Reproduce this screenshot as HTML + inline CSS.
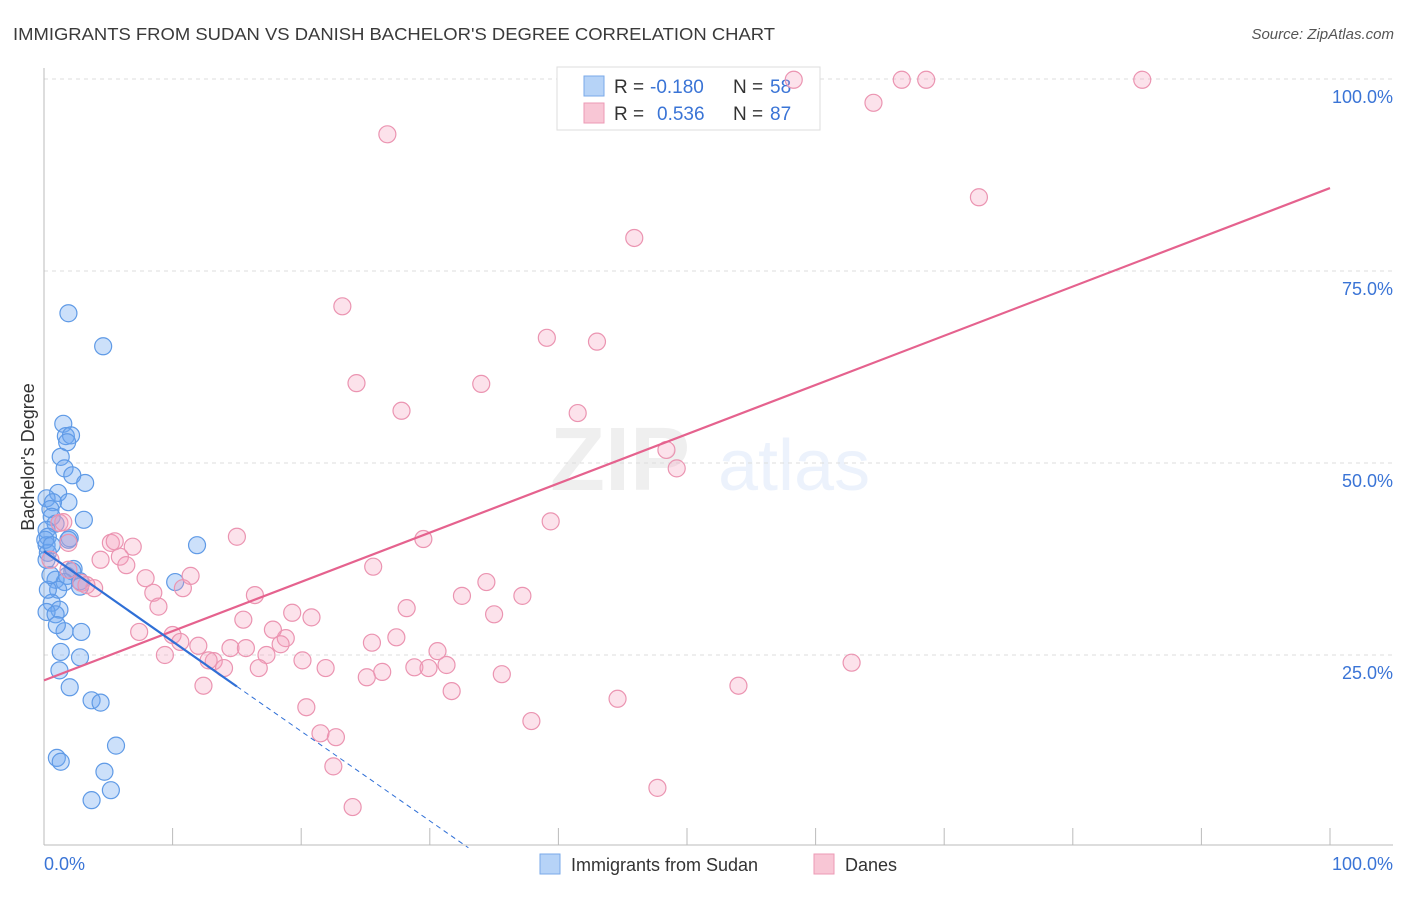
<!DOCTYPE html>
<html><head><meta charset="utf-8"><style>
body{margin:0;background:#fff;font-family:"Liberation Sans",sans-serif}
svg text{font-family:"Liberation Sans",sans-serif}
</style></head><body>
<svg id="chart" width="1406" height="892" xmlns="http://www.w3.org/2000/svg">
<text x="13" y="40" font-size="17.5" fill="#3a3a3a" textLength="762" lengthAdjust="spacingAndGlyphs">IMMIGRANTS FROM SUDAN VS DANISH BACHELOR'S DEGREE CORRELATION CHART</text>
<text x="1394" y="39" font-size="15" font-style="italic" fill="#555" text-anchor="end">Source: ZipAtlas.com</text>
<text transform="translate(34,457) rotate(-90)" font-size="18" fill="#333" text-anchor="middle">Bachelor's Degree</text>
<g opacity="0.09">
<text x="690" y="490" font-size="90" font-family="Liberation Serif" fill="#555" text-anchor="end" font-weight="bold">ZIP</text>
<text x="718" y="490" font-size="72" fill="#3b7de0">atlas</text>
</g>
<g id="grid"></g><g id="axes"></g>
<g>
<rect x="557" y="67" width="263" height="63" fill="#fff" stroke="#ddd"/>
<rect x="584" y="76" width="20" height="20" fill="#b6d3f7" stroke="#7aaae8"/>
<rect x="584" y="103" width="20" height="20" fill="#f8c6d5" stroke="#ec9ab5"/>
<text x="614" y="93" font-size="19" fill="#333">R =</text>
<text x="650" y="93" font-size="19" fill="#3a74d6">-0.180</text>
<text x="733" y="93" font-size="19" fill="#333">N =</text>
<text x="770" y="93" font-size="19" fill="#3a74d6">58</text>
<text x="614" y="120" font-size="19" fill="#333">R =</text>
<text x="657" y="120" font-size="19" fill="#3a74d6">0.536</text>
<text x="733" y="120" font-size="19" fill="#333">N =</text>
<text x="770" y="120" font-size="19" fill="#3a74d6">87</text>
</g>
<g id="pts"></g><g id="lines"></g>
<g>
<rect x="540" y="854" width="20" height="20" fill="#b6d3f7" stroke="#7aaae8"/>
<text x="571" y="871" font-size="18" fill="#333">Immigrants from Sudan</text>
<rect x="814" y="854" width="20" height="20" fill="#f8c6d5" stroke="#ec9ab5"/>
<text x="845" y="871" font-size="18" fill="#333">Danes</text>
</g>
</svg>
<script>
const yTicks=[25,50,75,100];
const yTickLabels=["25.0%","50.0%","75.0%","100.0%"];
const xTickLabels=["0.0%","100.0%"];
const blueX=[1.9,4.6,1.5,1.7,2.1,1.8,1.3,1.6,2.2,3.2,1.1,0.2,1.9,0.7,0.5,3.1,0.6,0.9,0.2,0.3,2.0,1.9,0.2,11.9,0.3,2.3,2.2,1.8,0.9,1.6,10.2,2.8,2.8,1.1,0.6,1.2,0.2,0.9,1.6,2.9,1.3,1.2,2.8,2.0,3.7,4.4,1.0,1.3,5.6,4.7,3.7,5.2,0.2,0.3,0.1,1.0,0.5,0.6];
const blueY=[69.5,65.2,55.1,53.5,53.6,52.7,50.8,49.3,48.4,47.4,46.1,45.4,44.9,44.9,44.0,42.6,43.0,42.1,41.3,40.4,40.2,40.0,39.3,39.3,38.3,36.2,35.9,35.3,34.8,34.5,34.5,34.6,33.9,33.5,31.8,30.9,30.6,30.3,28.1,28.0,25.4,23.0,24.7,20.8,19.1,18.8,11.6,11.1,13.2,9.8,6.1,7.4,37.4,33.5,40.0,28.9,35.4,39.3];
const pinkX=[23.2,26.7,58.3,66.7,68.6,85.4,64.5,72.7,45.9,39.1,43.0,24.3,34.0,27.8,41.5,48.4,49.2,39.4,29.5,15.0,1.2,1.5,1.9,5.2,5.5,6.9,4.4,5.9,6.4,7.9,11.4,10.8,8.5,8.9,2.9,3.9,34.4,32.5,37.2,25.6,16.4,28.2,19.3,20.8,35.0,15.5,7.4,10.0,10.6,12.0,18.8,17.8,14.5,15.7,27.4,25.5,30.6,17.3,18.4,9.4,13.2,12.8,14.0,20.1,21.9,28.8,29.9,31.3,26.3,25.1,35.6,16.7,12.4,31.7,54.0,62.8,44.6,20.4,21.5,22.7,37.9,22.5,47.7,24.0,0.5,1.9,3.3];
const pinkY=[70.4,92.8,99.9,99.9,99.9,99.9,96.9,84.6,79.3,66.3,65.8,60.4,60.3,56.8,56.5,51.7,49.3,42.4,40.1,40.4,42.2,42.3,39.6,39.6,39.8,39.1,37.4,37.8,36.7,35.0,35.3,33.7,33.1,31.3,34.4,33.7,34.5,32.7,32.7,36.5,32.8,31.1,30.5,29.9,30.3,29.6,28.0,27.6,26.7,26.2,27.2,28.3,25.9,25.9,27.3,26.6,25.5,25.0,26.4,25.0,24.2,24.3,23.3,24.3,23.3,23.4,23.3,23.7,22.8,22.1,22.5,23.3,21.0,20.3,21.0,24.0,19.3,18.2,14.8,14.3,16.4,10.5,7.7,5.2,37.4,36.1,34.1];
const blueTrend=[38.5,20.9,-0.1]; const blueTrendX=[0,15,33];
const pinkTrend=[21.7,85.8]; const pinkTrendX=[0,100];
const sx=v=>44+v*12.86, sy=v=>847-v*7.68;
const NS="http://www.w3.org/2000/svg";
function mk(t,a,p){const e=document.createElementNS(NS,t);for(const k in a)e.setAttribute(k,a[k]);p.appendChild(e);return e;}
const grid=document.getElementById('grid'),axes=document.getElementById('axes'),pts=document.getElementById('pts'),lines=document.getElementById('lines');
yTicks.forEach((v,i)=>{
 const l=mk('line',{x1:44,x2:1393,y1:sy(v),y2:sy(v),stroke:'#ddd','stroke-dasharray':'4,4'},grid);
 
 
 const t=mk('text',{x:1393,y:sy(v)+24,'font-size':18,fill:'#3a74d6','text-anchor':'end'},axes);
 t.textContent=yTickLabels[i];
 
 
});
const xa=mk('line',{x1:44,x2:1393,y1:845,y2:845,stroke:'#bbb'},axes);


const ya=mk('line',{x1:44,x2:44,y1:68,y2:845,stroke:'#bbb'},axes);


for(let i=0;i<=10;i++){const tk=mk('line',{x1:sx(i*10),x2:sx(i*10),y1:828,y2:845,stroke:'#bbb'},axes);
 
 }
[[0,'start',44],[1,'end',1393]].forEach(([i,a,x])=>{const t=mk('text',{x:x,y:870,'font-size':18,fill:'#3a74d6','text-anchor':a},axes);t.textContent=xTickLabels[i];
 
 });
blueX.forEach((v,i)=>{const c=mk('circle',{cx:sx(v),cy:sy(blueY[i]),r:8.5,fill:'rgba(110,165,240,0.35)',stroke:'#5f9ae6','stroke-width':1.2},pts);
 
 });
pinkX.forEach((v,i)=>{const c=mk('circle',{cx:sx(v),cy:sy(pinkY[i]),r:8.5,fill:'rgba(245,160,190,0.3)',stroke:'#eb94b1','stroke-width':1.2},pts);
 
 });
const pl=mk('line',{x1:sx(pinkTrendX[0]),y1:sy(pinkTrend[0]),x2:sx(pinkTrendX[1]),y2:sy(pinkTrend[1]),stroke:'#e5628e','stroke-width':2.2},lines);


const bl=mk('line',{x1:sx(blueTrendX[0]),y1:sy(blueTrend[0]),x2:sx(blueTrendX[1]),y2:sy(blueTrend[1]),stroke:'#2f6fd6','stroke-width':2.2},lines);


const bd=mk('line',{x1:sx(blueTrendX[1]),y1:sy(blueTrend[1]),x2:sx(blueTrendX[2]),y2:sy(blueTrend[2]),stroke:'#2f6fd6','stroke-width':1,'stroke-dasharray':'5,4'},lines);


</script>
</body></html>
